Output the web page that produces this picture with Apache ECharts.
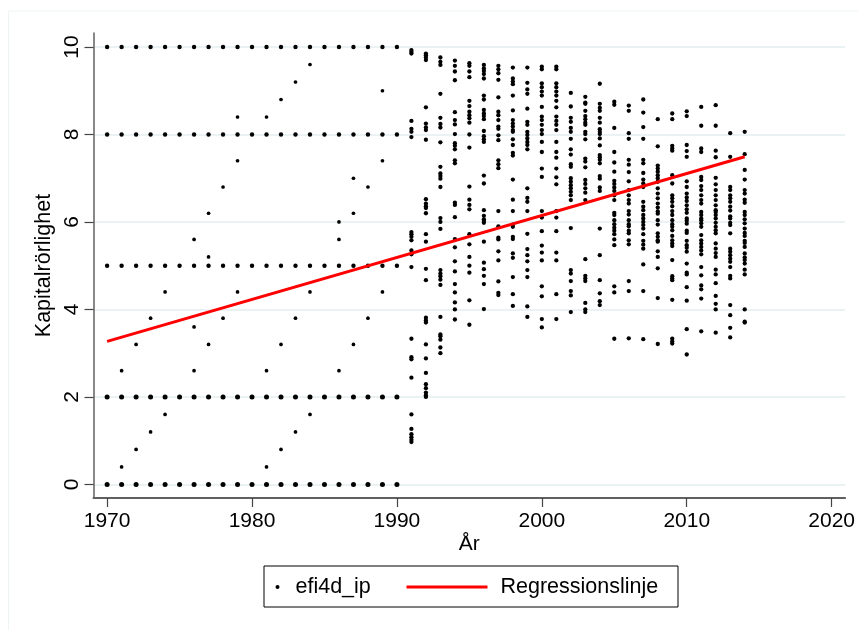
<!DOCTYPE html>
<html><head><meta charset="utf-8">
<style>html,body{margin:0;padding:0;background:#fff}#c{width:858px;height:630px}</style>
<script src="https://cdn.jsdelivr.net/npm/echarts@6/dist/echarts.min.js"></script>
</head><body><div id="c"></div>
<script>
const xTicks = [1970,1980,1990,2000,2010,2020];
const yTicks = [0,2,4,6,8,10];
const fitYears = [1970,2014];
const fitValues = [3.27,7.49];
const years = [];
for (let yr = 1970; yr <= 2014; yr++) years.push(yr);
const valuesByYear = [
[0,2,5,8,10],
[0,0.4,2,2.6,5,8,10],
[0,0.8,2,3.2,5,8,10],
[0,1.2,2,3.8,5,8,10],
[0,1.6,2,4.4,5,8,10],
[0,2,5,8,10],
[0,2,2.6,3.6,5,5.6,8,10],
[0,2,3.2,5,5.2,6.2,8,10],
[0,2,3.8,5,6.8,8,10],
[0,2,4.4,5,7.4,8,8.4,10],
[0,2,5,8,10],
[0,0.4,2,2.6,5,8,8.4,10],
[0,0.8,2,3.2,5,8,8.8,10],
[0,1.2,2,3.8,5,8,9.2,10],
[0,1.6,2,4.4,5,8,9.6,10],
[0,2,5,8,10],
[0,2,2.6,5,5.6,6,8,10],
[0,2,3.2,5,6.2,7,8,10],
[0,2,3.8,5,6.8,8,10],
[0,2,4.4,5,7.4,8,9,10],
[0,2,5,8,10],
[9.93,9.89,9.85,8.31,8.13,8.06,7.94,5.77,5.72,5.66,5.58,5.35,5.26,4.97,3.33,2.91,2.86,2.44,1.6,1.27,1.15,1.08,1.02,0.97],
[9.85,9.81,9.76,9.7,8.62,8.25,8.16,8.1,7.88,6.52,6.42,6.36,6.32,6.2,5.72,5.55,4.93,4.67,3.81,3.75,3.7,3.2,2.88,2.55,2.29,2.2,2.1,2.04,2.0],
[9.76,9.66,9.59,8.93,8.38,8.24,8.16,7.82,7.26,7.11,7.05,6.99,6.8,6.09,6.0,5.84,4.9,4.82,4.76,4.68,4.56,3.83,3.43,3.39,3.31,3.13,3.0],
[9.69,9.57,9.44,9.24,8.51,8.33,8.23,8.01,7.8,7.74,7.66,7.41,7.34,6.44,6.39,6.11,5.61,5.42,5.1,4.87,4.58,4.39,4.16,4.0,3.77],
[9.63,9.57,9.44,9.31,8.77,8.65,8.52,8.44,8.37,8.27,8.0,7.7,6.81,6.51,6.39,6.29,5.72,5.49,5.2,5.0,4.84,4.21,3.65],
[9.59,9.51,9.45,9.38,9.28,8.89,8.8,8.56,8.48,8.42,8.35,8.08,7.96,7.89,7.83,7.06,6.88,6.27,6.14,6.06,6.02,5.98,5.55,5.07,4.92,4.77,4.58,4.01],
[9.57,9.49,9.4,9.25,8.85,8.52,8.44,8.33,8.18,8.13,7.98,7.87,7.41,7.32,7.23,6.25,5.9,5.64,5.6,5.33,5.12,4.64,4.38,4.33],
[9.53,9.28,9.21,9.15,8.89,8.55,8.33,8.25,8.18,8.1,8.06,7.89,7.76,7.58,7.52,6.97,6.51,6.25,5.94,5.89,5.66,5.61,5.28,5.18,4.74,4.35,4.08],
[9.53,9.18,9.03,8.93,8.59,8.29,8.22,8.06,7.99,7.91,7.83,7.76,7.66,6.77,6.55,6.46,6.25,5.73,5.38,5.24,5.1,4.9,4.74,4.07,3.83],
[9.55,9.49,9.17,9.08,8.98,8.89,8.63,8.41,8.33,8.22,8.1,8.01,7.83,7.6,7.22,7.03,6.25,6.1,5.79,5.46,5.3,5.12,4.53,4.3,3.78,3.59],
[9.55,9.49,9.17,9.08,8.98,8.89,8.77,8.62,8.41,8.31,8.22,8.1,7.83,7.6,7.47,7.22,7.02,6.86,6.25,6.1,5.79,5.3,5.12,4.35,3.78],
[8.95,8.64,8.38,8.29,8.15,8.06,7.9,7.66,7.54,7.32,7.26,7.0,6.92,6.84,6.77,6.69,6.61,6.5,5.86,4.9,4.82,4.65,4.42,4.32,3.94],
[8.86,8.73,8.7,8.54,8.42,8.35,8.27,8.22,8.06,8.01,7.89,7.45,7.38,7.25,6.96,6.87,6.77,6.67,6.5,5.15,4.77,4.71,4.65,4.15,4.0,3.94],
[9.16,8.7,8.61,8.54,8.38,8.27,8.12,8.06,8.01,7.91,7.75,7.53,7.48,7.42,7.34,7.05,6.99,6.79,6.71,5.85,5.24,4.67,4.37,4.19,4.1],
[8.75,8.68,8.15,7.6,7.36,7.15,6.94,6.87,6.79,6.71,6.61,6.5,6.21,6.16,6.04,5.95,5.87,5.8,5.72,5.6,5.47,4.53,4.39,3.33],
[8.66,8.54,8.03,7.9,7.42,7.31,7.14,6.93,6.73,6.61,6.5,6.42,6.25,6.17,6.04,5.95,5.9,5.8,5.74,5.58,5.49,4.65,4.42,3.34],
[8.8,8.5,8.17,7.9,7.42,7.34,7.12,6.97,6.88,6.8,6.46,6.35,6.27,6.16,6.08,6,5.93,5.85,5.72,5.57,5.48,5.39,5.03,4.42,3.32],
[8.35,7.73,7.29,7.22,7.15,7.07,7,6.92,6.77,6.65,6.54,6.42,6.33,6.24,6.19,6.04,5.94,5.74,5.66,5.58,5.55,5.33,5.2,4.94,4.26,3.21],
[8.48,8.35,7.74,7.68,7.63,7.07,6.88,6.61,6.54,6.46,6.36,6.25,6.16,6.04,5.95,5.89,5.81,5.68,5.58,5.51,5.45,5.13,4.76,4.71,4.67,4.22,3.33,3.27,3.22],
[8.53,8.42,7.76,7.62,7.49,6.93,6.8,6.65,6.56,6.48,6.38,6.29,6.21,6.08,6.03,5.96,5.8,5.75,5.57,5.47,5.41,5.32,5.05,4.84,4.8,4.51,4.2,3.55,2.97],
[8.63,8.2,7.68,7.6,7.03,6.96,6.82,6.73,6.61,6.5,6.42,6.23,6.16,6.08,6.04,5.97,5.89,5.7,5.58,5.51,5.43,5.35,5.26,4.97,4.78,4.55,4.46,4.25,3.5],
[8.67,8.2,7.63,7.48,7.01,6.86,6.73,6.61,6.5,6.38,6.27,6.23,6.16,6.08,5.98,5.89,5.81,5.74,5.51,5.39,5.29,5.2,4.91,4.8,4.6,4.31,4.13,4,3.47],
[8.03,7.49,6.8,6.73,6.61,6.54,6.46,6.35,6.26,6.13,6.08,5.98,5.93,5.74,5.39,5.32,5.24,5.16,5.09,4.97,4.77,4.71,4.1,3.87,3.58,3.36],
[8.06,7.55,7.19,6.97,6.73,6.65,6.51,6.44,6.23,6.16,6.06,5.97,5.85,5.75,5.68,5.57,5.52,5.43,5.28,5.19,5.13,5.05,4.91,4.8,4,3.72,3.7]
];
const scatterData = [];
years.forEach((yr,i)=>valuesByYear[i].forEach(v=>scatterData.push([yr,v])));
const dotSize = d => {
  if (d[0] > 1990) return 4.3;
  if (d[1] === 0 || d[1] === 2) return 5;
  if (d[1] === 5 || d[1] === 8 || d[1] === 10) return 4.4;
  return 3.7;
};
const FONT = '"Liberation Sans", Arial, sans-serif';
const chart = echarts.init(document.getElementById('c'), null, {renderer:'canvas'});
chart.setOption({
  animation:false,
  backgroundColor:'#fff',
  grid:{left:93.5,right:10,top:33,bottom:132,containLabel:false},
  xAxis:{type:'value',min:1969.06,max:2020.93,name:'År',nameLocation:'middle',nameGap:36,nameMoveOverlap:false,
    nameTextStyle:{color:'#000',fontSize:21,fontFamily:FONT},
    axisLine:{onZero:false,lineStyle:{color:'#606060',width:2}},
    axisTick:{show:true,length:9,customValues:xTicks,lineStyle:{color:'#444',width:1.2}},
    axisLabel:{customValues:xTicks,color:'#000',fontSize:21,fontFamily:FONT,margin:13,hideOverlap:false,formatter:v=>String(v)},
    splitLine:{show:false}},
  yAxis:{type:'value',min:-0.31,max:10.32,name:'Kapitalrörlighet',nameLocation:'middle',nameGap:38,nameMoveOverlap:false,nameRotate:90,
    nameTextStyle:{color:'#000',fontSize:21.5,fontFamily:FONT},
    axisLine:{onZero:false,lineStyle:{color:'#606060',width:1.5}},
    axisTick:{show:true,length:9,customValues:yTicks,lineStyle:{color:'#444',width:1.2}},
    axisLabel:{customValues:yTicks,color:'#000',fontSize:21,fontFamily:FONT,rotate:90,margin:11,align:'center',verticalAlign:'bottom',formatter:v=>String(v)},
    splitLine:{show:true,lineStyle:{color:'#eaf2f3',width:2}}},
  legend:[
    {data:['efi4d_ip'],left:275.5,top:576,padding:0,itemWidth:4,itemHeight:4,icon:'circle',
     itemStyle:{opacity:1},
     textStyle:{color:'#000',fontSize:21.5,fontFamily:FONT,padding:[0,0,0,11]}},
    {data:['Regressionslinje'],left:406.5,top:576,padding:0,itemWidth:81,itemHeight:3,icon:'rect',
     itemStyle:{color:'#ff0000',borderWidth:0},
     textStyle:{color:'#000',fontSize:21.5,fontFamily:FONT,padding:[0,0,0,8]}}
  ],
  graphic:[
    {type:'rect',shape:{x:8.5,y:11,width:860,height:640},style:{fill:'none',stroke:'#eef3f4',lineWidth:1},silent:true,z:-1},
    {type:'rect',shape:{x:264,y:566,width:414,height:41},style:{fill:'none',stroke:'#000',lineWidth:1},silent:true,z:10}
  ],
  series:[
    {name:'efi4d_ip',type:'scatter',data:scatterData,symbol:'circle',symbolSize:dotSize,itemStyle:{color:'#000',opacity:1},z:2},
    {name:'Regressionslinje',type:'line',data:fitYears.map((y,i)=>[y,fitValues[i]]),symbol:'none',lineStyle:{color:'#ff0000',width:3},itemStyle:{color:'#ff0000'},z:3}
  ]
});
</script></body></html>
